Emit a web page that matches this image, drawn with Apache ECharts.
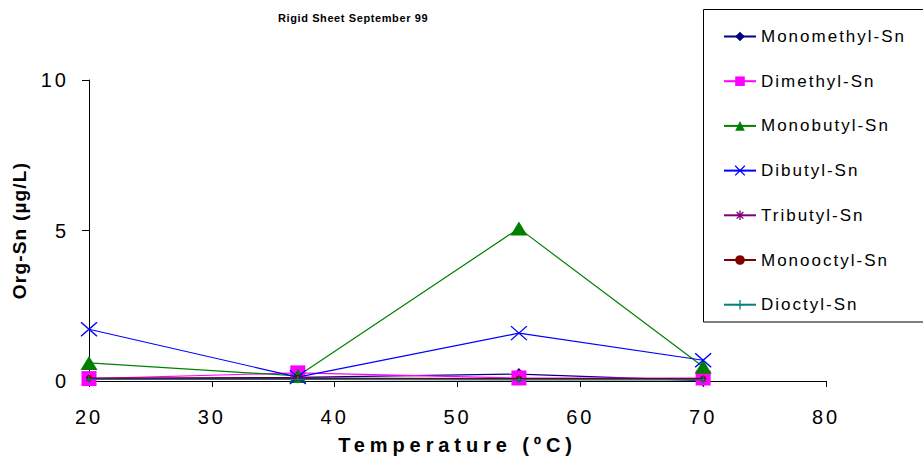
<!DOCTYPE html>
<html>
<head>
<meta charset="utf-8">
<title>Rigid Sheet September 99</title>
<script src="https://cdn.jsdelivr.net/npm/echarts@6/dist/echarts.min.js"></script>
<style>
  html, body { margin: 0; padding: 0; background: #fff; }
  #chart { width: 923px; height: 461px; }
</style>
</head>
<body>
<div id="chart"></div>
<script>
// Temperatures (ºC) at which samples were taken
const temperatures = [20, 37, 55, 70];

// Organotin concentrations (µg/L) per compound
const monomethyl = [0.08, 0.12, 0.23, 0.01];
const dimethyl   = [0.08, 0.27, 0.10, 0.10];
const monobutyl  = [0.60, 0.17, 5.07, 0.47];
const dibutyl    = [1.72, 0.13, 1.59, 0.69];
const tributyl   = [0.07, 0.09, 0.06, 0.06];
const monooctyl  = [0.10, 0.10, 0.08, 0.08];
const dioctyl    = [0.05, 0.05, 0.04, 0.04];

const seriesNames = ['Monomethyl-Sn', 'Dimethyl-Sn', 'Monobutyl-Sn', 'Dibutyl-Sn',
                     'Tributyl-Sn', 'Monooctyl-Sn', 'Dioctyl-Sn'];
const seriesValues = [monomethyl, dimethyl, monobutyl, dibutyl, tributyl, monooctyl, dioctyl];

// Axis ticks
const xTicks = { min: 20, max: 80, interval: 10 };
const yTicks = { min: 0, max: 10, interval: 5 };

const FONT = '"Liberation Sans", Arial, sans-serif';

const CROSS = 'path://M0,0L10,10M10,0L0,10';
const ASTER = 'path://M0,5L10,5M5,0L5,10M1.5,1.5L8.5,8.5M8.5,1.5L1.5,8.5';
const PLUS  = 'path://M0,5L10,5M5,0L5,10';

const styles = [
  { color: '#000080', symbol: 'diamond',  size: [11, 12], stroke: false },
  { color: '#FF00FF', symbol: 'rect',     size: 15,       stroke: false },
  { color: '#008000', symbol: 'triangle', size: [17, 14], stroke: false },
  { color: '#0000FF', symbol: CROSS,      size: [16, 14], stroke: true },
  { color: '#800080', symbol: ASTER,      size: 6,        stroke: true },
  { color: '#800000', symbol: 'circle',   size: 6,        stroke: false },
  { color: '#008080', symbol: PLUS,       size: 7,        stroke: true }
];

function pairs(values) {
  return values.map((v, i) => [temperatures[i], v]);
}

const series = seriesNames.map((name, i) => {
  const s = styles[i];
  return {
    name: name,
    type: 'line',
    data: pairs(seriesValues[i]),
    symbol: s.symbol,
    symbolSize: s.size,
    showAllSymbol: true,
    lineStyle: { color: s.color, width: 1.2 },
    itemStyle: {
      color: s.color,
      borderColor: s.color,
      borderWidth: s.stroke ? 1.3 : 0
    },
    emphasis: { disabled: true },
    z: 2 + i
  };
});

const chart = echarts.init(document.getElementById('chart'), null, { renderer: 'svg' });

chart.setOption({
  animation: false,
  backgroundColor: '#fff',
  title: {
    text: 'Rigid Sheet September 99',
    left: 278,
    top: 12,
    padding: 0,
    textStyle: { fontFamily: FONT, fontSize: 11, fontWeight: 'bold', color: '#000' }
  },
  graphic: [{
    type: 'rect',
    shape: { x: 703.5, y: 9.5, width: 240, height: 312.5 },
    style: { fill: '#fff', stroke: '#000', lineWidth: 1 },
    z: 0
  }],
  legend: {
    orient: 'vertical',
    left: 723,
    top: 28,
    padding: 0,
    itemGap: 27.7,
    itemWidth: 32,
    itemHeight: 12,
    data: seriesNames.map((name, i) => ({
      name: name,
      itemStyle: styles[i].stroke
        ? { borderColor: styles[i].color, borderWidth: 1.3 }
        : undefined
    })),
    textStyle: { fontFamily: FONT, fontSize: 17, color: '#000' },
    selectedMode: false,
    z: 5
  },
  grid: { left: 89, right: 97, top: 80, bottom: 80, containLabel: false },
  xAxis: {
    type: 'value',
    min: xTicks.min,
    max: xTicks.max,
    interval: xTicks.interval,
    name: 'Temperature (ºC)',
    nameLocation: 'middle',
    nameGap: 54,
    nameTextStyle: { fontFamily: FONT, fontSize: 20, fontWeight: 'bold', color: '#000' },
    axisLine: { lineStyle: { color: '#000', width: 1 } },
    axisTick: { show: true, inside: false, length: 6, lineStyle: { color: '#000' } },
    axisLabel: { margin: 26, fontFamily: FONT, fontSize: 20, color: '#000' },
    splitLine: { show: false }
  },
  yAxis: {
    type: 'value',
    min: yTicks.min,
    max: yTicks.max,
    interval: yTicks.interval,
    name: 'Org-Sn (µg/L)',
    nameLocation: 'middle',
    nameGap: 60,
    nameTextStyle: { fontFamily: FONT, fontSize: 19, fontWeight: 'bold', color: '#000' },
    axisLine: { show: true, lineStyle: { color: '#000', width: 1 } },
    axisTick: { show: true, inside: false, length: 7, lineStyle: { color: '#000' } },
    axisLabel: { margin: 20, fontFamily: FONT, fontSize: 20, color: '#000' },
    splitLine: { show: false }
  },
  series: series
});

// Widen letter spacing of the drawn texts, by their font size and weight
function applySpacing() {
  document.querySelectorAll('#chart text').forEach(function (t) {
    const cs = getComputedStyle(t);
    const size = Math.round(parseFloat(cs.fontSize));
    const bold = cs.fontWeight === 'bold' || parseInt(cs.fontWeight, 10) >= 600;
    let sp = 0;
    if (bold && size === 11) sp = 0.6;
    else if (bold && size === 19) sp = 1.2;
    else if (bold && size === 20) sp = 4.9;
    else if (!bold && size === 20) sp = 3;
    else if (!bold && size === 17) sp = 2;
    t.style.letterSpacing = sp + 'px';
  });
}
applySpacing();
chart.on('finished', applySpacing);
</script>
</body>
</html>
